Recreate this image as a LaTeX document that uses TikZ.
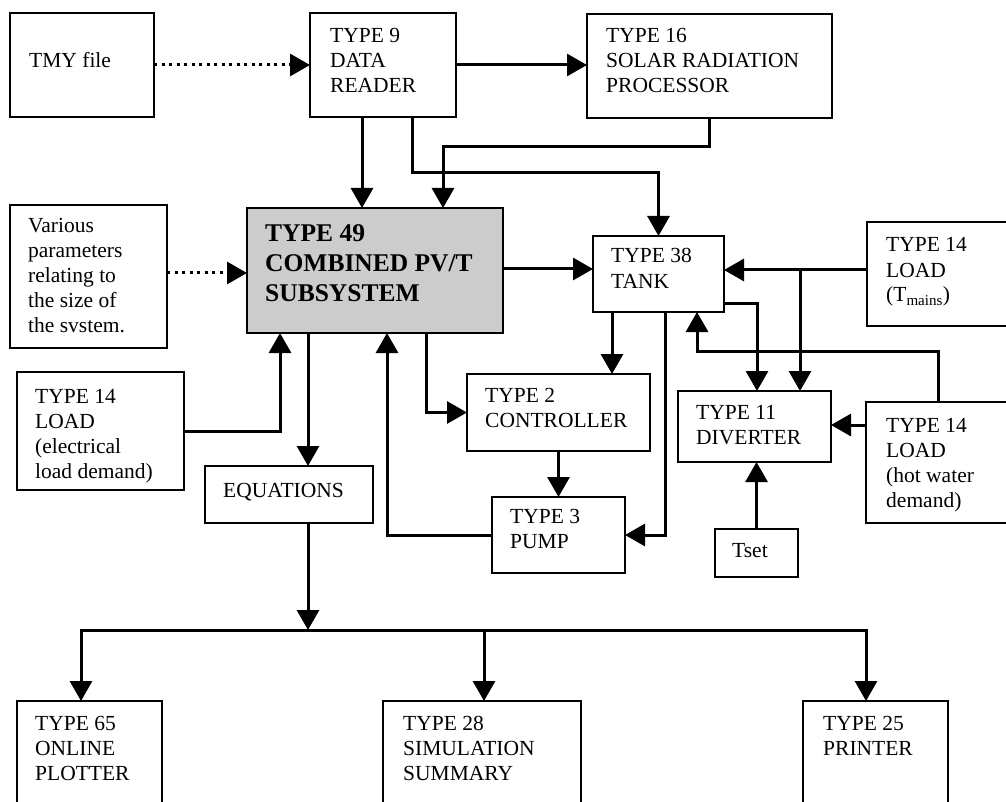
\documentclass[tikz,border=0pt]{standalone}
\usepackage{fontspec}
\setmainfont{Liberation Serif}
\usetikzlibrary{arrows.meta}
\newcommand\tl[1]{\begin{tabular}[t]{@{}l@{}}#1\end{tabular}}
\tikzset{
  boxst/.style={draw, line width=1.4pt, anchor=north west, inner sep=0pt, outer sep=0pt},
  txt/.style={anchor=base west, inner sep=0pt, font=\fontsize{21.5}{25}\selectfont},
  btxt/.style={anchor=base west, inner sep=0pt, font=\fontsize{25.5}{30}\selectfont\bfseries},
  conn/.style={line width=3pt},
  arr/.style={line width=3pt, -{Triangle[length=20pt,width=22pt]}},
  dotarr/.style={line width=3pt, dash pattern=on 3pt off 4.5pt, -{Triangle[length=20pt,width=22pt]}},
}
\newcommand\bx[5][]{\node[boxst,minimum width=#4pt,minimum height=#5pt,#1] (#2) at (#3) {};}
\begin{document}
\begin{tikzpicture}[x=1pt,y=-1pt]
\useasboundingbox (0,0) rectangle (1006,802);
% boxes
\bx{tmy}{10,13}{144}{104}
\bx{t9}{310,13}{146}{104}
\bx{t16}{587,14}{245}{104}
\bx{var}{10,205}{157}{143}
\bx[fill=black!20]{t49}{247,208}{256}{125}
\bx{t14e}{17,372}{167}{118}
\bx{eq}{205,466}{168}{57}
\bx{t2}{467,374}{183}{77}
\bx{t3}{492,497}{133}{76}
\bx{t38}{593,236}{131}{76}
\bx{tm}{867,222}{140}{104}
\bx{hw}{866,402}{141}{121}
\bx{t11}{678,391}{153}{71}
\bx{tset}{715,529}{83}{48}
\bx{t65}{17,701}{145}{120}
\bx{t28}{383,701}{198}{120}
\bx{t25}{803,701}{145}{120}
% texts
\node[txt] (tmyt) at (29,68) {TMY file};
\node[txt] (t9t) at (330,43) {\tl{TYPE 9\\DATA\\READER}};
\node[txt] (t16t) at (606,43) {\tl{TYPE 16\\SOLAR RADIATION\\PROCESSOR}};
\node[txt] (vart) at (28,233) {\tl{Various\\parameters\\relating to\\the size of\\the svstem.}};
\node[btxt] (t49t) at (265,242) {\tl{TYPE 49\\COMBINED PV/T\\SUBSYSTEM}};
\node[txt] (t14et) at (35,403) {\tl{TYPE 14\\LOAD\\(electrical\\load demand)}};
\node[txt] (eqt) at (223,497) {EQUATIONS};
\node[txt] (t2t) at (485,402) {\tl{TYPE 2\\CONTROLLER}};
\node[txt] (t3t) at (510,523) {\tl{TYPE 3\\PUMP}};
\node[txt] (t38t) at (611,263) {\tl{TYPE 38\\TANK}};
\node[txt] (tmt) at (886,252) {\tl{TYPE 14\\LOAD\\(T\textsubscript{mains})}};
\node[txt] (hwt) at (886,432) {\tl{TYPE 14\\LOAD\\(hot water\\demand)}};
\node[txt] (t11t) at (696,419) {\tl{TYPE 11\\DIVERTER}};
\node[txt] (tsett) at (732,557) {Tset};
\node[txt] (t65t) at (35,730) {\tl{TYPE 65\\ONLINE\\PLOTTER}};
\node[txt] (t28t) at (403,730) {\tl{TYPE 28\\SIMULATION\\SUMMARY}};
\node[txt] (t25t) at (823,730) {\tl{TYPE 25\\PRINTER}};
% helper coordinates
\coordinate (xA) at (362,0);
\coordinate (k1) at (412,173);
\coordinate (k2) at (443,147);
\coordinate (y273) at (0,273);
\coordinate (x280) at (280,0);
\coordinate (x308) at (308,0);
\coordinate (x387) at (387,0);
\coordinate (x426) at (426,0);
\coordinate (y269) at (0,269);
\coordinate (x612) at (612,0);
\coordinate (x665) at (665,0);
\coordinate (y270) at (0,270);
\coordinate (j1) at (800,270);
\coordinate (y303) at (0,303);
\coordinate (x757) at (757,0);
\coordinate (x938) at (938,0);
\coordinate (k4) at (697,351);
\coordinate (y425) at (0,425);
\coordinate (bus) at (308,630);
\coordinate (b1) at (81,630);
\coordinate (b2) at (484,630);
\coordinate (b3) at (866,630);
% connectors
\draw[dotarr] (tmy.east) -- (t9.west);
\draw[arr] (t9.east) -- (t9.east -| t16.west);
\draw[arr] (t9.south -| xA) -- (t49.north -| xA);
\draw[arr] (t9.south -| k1) -- (k1) -| (t38.north);
\draw[arr] (t16.south) |- (k2) -- (t49.north -| k2);
\draw[dotarr] (var.east |- y273) -- (t49.west |- y273);
\draw[arr] (t14e.east) -| (t49.south -| x280);
\draw[arr] (t49.south -| x308) -- (eq.north -| x308);
\draw[arr] (t3.west) -| (t49.south -| x387);
\draw[arr] (t49.south -| x426) |- (t2.west);
\draw[arr] (t49.east |- y269) -- (t38.west |- y269);
\draw[arr] (t38.south -| x612) -- (t2.north -| x612);
\draw[arr] (t2.south) -- (t3.north);
\draw[arr] (t38.south -| x665) |- (t3.east);
\draw[arr] (tm.west |- y270) -- (t38.east |- y270);
\draw[arr] (j1) -- (t11.north -| j1);
\draw[arr] (t38.east |- y303) -| (t11.north -| x757);
\draw[arr] (hw.north -| x938) |- (k4) -- (t38.south -| k4);
\draw[arr] (hw.west |- y425) -- (t11.east |- y425);
\draw[arr] (tset.north) -- (t11.south -| tset.north);
\draw[arr] (eq.south -| x308) -- (bus);
\draw[conn, line cap=rect] (b1) -- (b3);
\draw[arr] (b1) -- (t65.north -| b1);
\draw[arr] (b2) -- (t28.north -| b2);
\draw[arr] (b3) -- (t25.north -| b3);
\end{tikzpicture}
\end{document}
